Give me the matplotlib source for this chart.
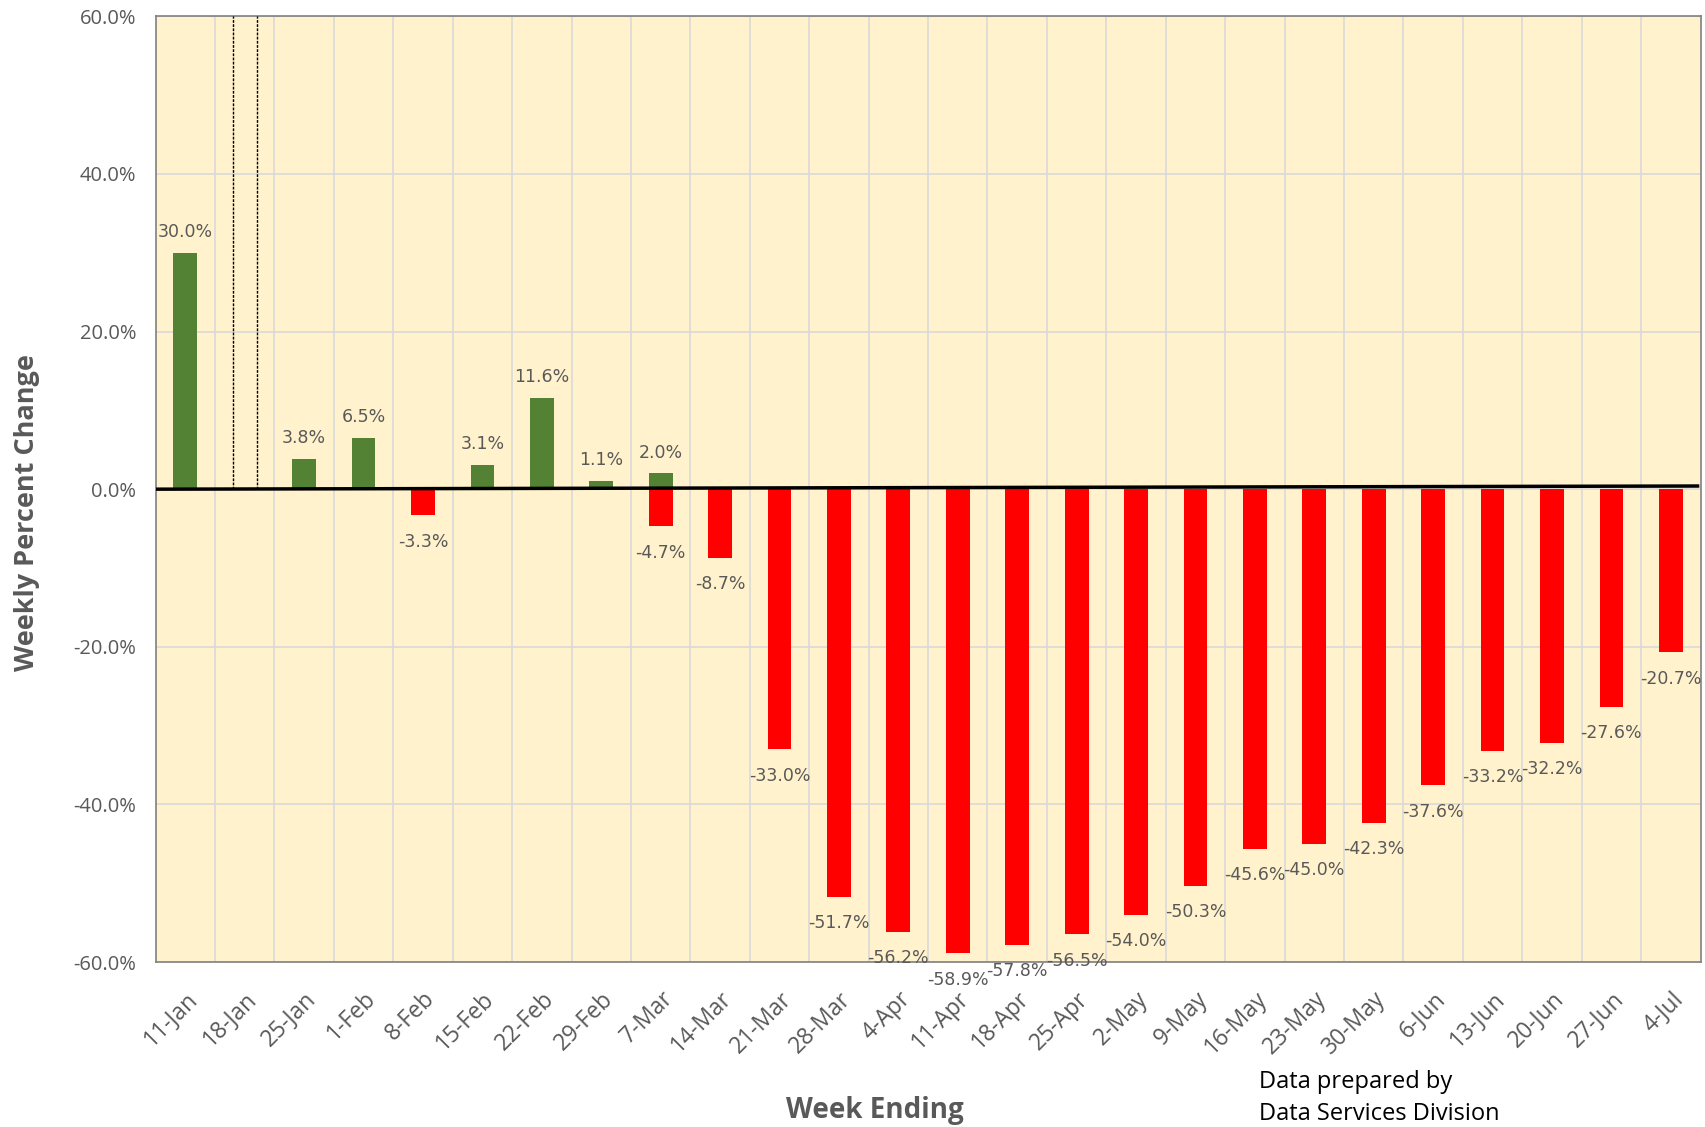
import numpy as np
import matplotlib
matplotlib.use("Agg")
import matplotlib.pyplot as plt
from matplotlib.ticker import FuncFormatter, FixedLocator

weeks = ["11-Jan", "18-Jan", "25-Jan", "1-Feb", "8-Feb", "15-Feb", "22-Feb", "29-Feb",
         "7-Mar", "14-Mar", "21-Mar", "28-Mar", "4-Apr", "11-Apr", "18-Apr", "25-Apr",
         "2-May", "9-May", "16-May", "23-May", "30-May", "6-Jun", "13-Jun", "20-Jun",
         "27-Jun", "4-Jul"]
nan = np.nan
gains = [30.0, nan, 3.8, 6.5, nan, 3.1, 11.6, 1.1, 2.0, nan, nan, nan, nan, nan, nan,
         nan, nan, nan, nan, nan, nan, nan, nan, nan, nan, nan]
losses = [nan, nan, nan, nan, -3.3, nan, nan, nan, -4.7, -8.7, -33.0, -51.7, -56.2,
          -58.9, -57.8, -56.5, -54.0, -50.3, -45.6, -45.0, -42.3, -37.6, -33.2, -32.2,
          -27.6, -20.7]

grey = "#595959"
fig = plt.figure(figsize=(17.06, 11.27), dpi=100)
ax = fig.add_axes([0.0912, 0.1464, 0.9056, 0.8391])
ax.set_facecolor("#FFF2CC")

x = np.arange(len(weeks))
ax.bar(x, gains, width=0.4, color="#548235", zorder=3)
ax.bar(x, losses, width=0.4, color="#FF0000", zorder=3)

for i, v in enumerate(gains):
    if not np.isnan(v):
        ax.annotate(f"{v:.1f}%", (i, v), xytext=(0, 15), textcoords="offset points",
                    ha="center", va="center", fontsize=12.5, color=grey,
                    family="DejaVu Sans", zorder=5)
for i, v in enumerate(losses):
    if not np.isnan(v):
        ax.annotate(f"{v:.1f}%", (i, v), xytext=(0, -19), textcoords="offset points",
                    ha="center", va="center", fontsize=12.5, color=grey,
                    family="DejaVu Sans", zorder=5, annotation_clip=False)

# zero line (slightly tilted as drawn in the original)
ax.plot([-0.47, 25.45], [0, 0.4], color="black", lw=2.5, zorder=4)
# dashed markers around 18-Jan
for xd in (0.81, 1.2):
    ax.plot([xd, xd], [0, 60], color="black", lw=1, ls=(0, (2, 1)), zorder=4)

ax.set_xlim(-0.5, len(weeks) - 0.5)
ax.set_ylim(-60, 60)
ax.yaxis.set_major_locator(FixedLocator([-60, -40, -20, 0, 20, 40, 60]))
ax.yaxis.set_major_formatter(FuncFormatter(lambda v, p: f"{v:.1f}%"))
ax.set_xticks(x)
ax.set_xticklabels(weeks, rotation=45, ha="right", rotation_mode="anchor")
ax.set_xticks(x[:-1] + 0.5, minor=True)
ax.tick_params(axis="both", which="both", length=0, colors=grey)
ax.tick_params(axis="x", pad=18, labelsize=16.5)
ax.tick_params(axis="y", pad=14, labelsize=14.5)
for lab in ax.get_xticklabels() + ax.get_yticklabels():
    lab.set_family("Open Sans")

ax.grid(axis="y", which="major", color="#D9D9D9", lw=1.2, zorder=0)
ax.grid(axis="x", which="minor", color="#D9D9D9", lw=1.2, zorder=0)
ax.set_axisbelow(True)
for s in ax.spines.values():
    s.set_color("#808080")
    s.set_linewidth(1.2)

fig.text(0.016, 0.545, "Weekly Percent Change", rotation=90, ha="center", va="center",
         fontsize=19.5, fontweight="bold", color=grey, family="Open Sans")
fig.text(0.513, 0.015, "Week Ending", ha="center", va="center",
         fontsize=20, fontweight="bold", color=grey, family="Open Sans")
fig.text(0.738, 0.026, "Data prepared by\nData Services Division", ha="left",
         va="center", fontsize=17, color="black", family="Open Sans", linespacing=1.45)

fig.savefig("out.png", dpi=100)
